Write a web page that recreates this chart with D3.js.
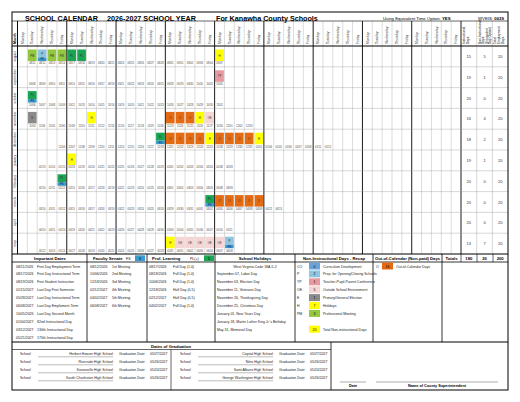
<!DOCTYPE html>
<html><head><meta charset="utf-8">
<script src="https://cdn.jsdelivr.net/npm/d3@7"></script>
<style>body{margin:0;background:#fff}text{font-family:Arial,"Liberation Sans",sans-serif}</style>
</head><body><svg id="c" width="520" height="402"></svg>
<script>
var months = ["august","september","october","november","december","january","february","march","april","may"];
var rowStarts = ["2026-08-11","2026-09-08","2026-10-06","2026-11-03","2026-12-04","2027-01-13","2027-02-10","2027-03-10","2027-04-14","2027-05-12"];
var rowFirstCol = [1,1,1,1,4,2,2,2,2,2];
var rowLastCol = [20,20,20,23,31,21,21,26,21,21];
var instrDays = [15,19,20,16,18,19,20,20,20,13];
var nonInstrDays = [5,1,0,4,2,1,0,0,0,7];
var totalDays = [20,20,20,20,20,20,20,20,20,20];
var dayNames = ["Monday","Tuesday","Wednesday","Thursday","Friday"];
var events = [
 ["08/11/2026","PM"],["08/12/2026","P","PS"],["08/13/2026","PM"],["08/14/2026","PM"],["08/17/2026","PL"],["08/18/2026","PL"],["09/07/2026","H"],
 ["10/05/2026","TP"],["10/06/2026","PL","PS"],
 ["11/03/2026","E"],["11/11/2026","H"],["11/23/2026","O"],["11/24/2026","O"],["11/25/2026","O"],["11/26/2026","H"],["11/27/2026","OE"],
 ["12/18/2026","PL","PS"],["12/21/2026","O"],["12/22/2026","O"],["12/23/2026","O"],["12/24/2026","O"],["12/25/2026","H"],
 ["12/28/2026","O"],["12/29/2026","O"],["12/30/2026","O"],["12/31/2026","O"],["01/01/2027","H"],
 ["01/18/2027","H"],["02/12/2027","PL","PS"],["04/02/2027","PL","PS"],
 ["04/05/2027","O"],["04/06/2027","O"],["04/07/2027","O"],["04/08/2027","O"],["04/09/2027","O"],
 ["05/31/2027","H"],["06/01/2027","OE"],["06/02/2027","OE"],["06/03/2027","OE"],["06/04/2027","OE"],["06/07/2027","OE"],["06/08/2027","P","PS"]
];
var codeColors = {PM:"#92c83e",P:"#8fc5e0",PS:"#3a9ad2",PL:"#1aa553",H:"#ffff00",TP:"#e69aa0",E:"#8a8a8a",O:"#e46b12",OE:"#f6d6d4",CO:"#6aa3d8"};
var importantDates = [["08/11/2026","First Day Employment Term"],["08/17/2026","First Day Instructional Term"],["08/19/2026","First Student Instruction"],["01/15/2027","Last Day First Semester"],["05/28/2027","Last Day Instructional Term"],["06/08/2027","Last Day Emploment Term"],["10/05/2026","Last Day Second Month"],["01/04/2027","82nd Instructional Day"],["03/12/2027","130th Instructional Day"],["05/21/2027","175th Instructional Day"]];
var facultySenate = [["08/12/2026","1st Meeting"],["10/06/2026","2nd Meeting"],["12/18/2026","3rd Meeting"],["02/12/2027","4th Meeting"],["04/02/2027","5th Meeting"],["06/08/2027","6th Meeting"]];
var profLearning = [["08/17/2026","Full Day (1.0)"],["08/18/2026","Full Day (1.0)"],["10/06/2026","Full Day (1.0)"],["12/18/2026","Half Day (0.5)"],["02/12/2027","Half Day (0.5)"],["04/02/2027","Full Day (1.0)"]];
var holidays = ["West Virginia Code 18A-5-2","September 07, Labor Day","November 03, Election Day","November 11, Veterans Day","November 26, Thanksgiving Day","December 25, Christmas Day","January 01, New Years Day","January 18, Martin Luther King Jr.'s Birthday","May 31, Memorial Day"];
var recap = [["CO","0","Curriculum Development"],["P","2","Prep. for Opening/Closing Schools"],["TP","1","Teacher-Pupil-Parent Conference"],["OE","5","Outside School Environment"],["E","1","Primary/General Election"],["H","7","Holidays"],["PM","3","Professional Meeting"]];
var gradLeft = [["Herbert Hoover High School","05/27/2027"],["Riverside High School","05/26/2027"],["Sissonville High School","05/24/2027"],["South Charleston High School","05/26/2027"]];
var gradRight = [["Capital High School","05/27/2027"],["Nitro High School","05/26/2027"],["Saint Albans High School","05/24/2027"],["George Washington High School","05/26/2027"]];

var svg = d3.select("#c");
var L = 12, R = 508, T = 12;
var x = d3.scaleBand().domain(d3.range(45)).range([17.5, 461]);
var y = d3.scaleBand().domain(months).range([46, 254]);
var tx = d3.scaleBand().domain([0,1,2]).range([461, R]);
var parse = d3.timeParse("%m/%d/%Y"), fmt = d3.timeFormat("%m/%d"), iso = d3.timeParse("%Y-%m-%d");
var ev = {}; events.forEach(function(e){ ev[+parse(e[0])] = e; });

function line(x1,y1,x2,y2,w,c){ svg.append("line").attr("x1",x1).attr("y1",y1).attr("x2",x2).attr("y2",y2).attr("stroke",c||"#000").attr("stroke-width",w||0.5); }
function txt(s,xx,yy,size,opt){ opt=opt||{}; return svg.append("text").attr("x",xx).attr("y",yy).attr("font-size",size).attr("text-anchor",opt.a||"start").attr("font-weight",opt.b?"bold":"normal").attr("fill",opt.c||"#000").text(s); }

// title
txt("SCHOOL CALENDAR",25,20.5,7.2,{b:1}); txt("2026-2027 SCHOOL YEAR",107,20.5,7.2,{b:1}); txt("For Kanawha County Schools",216,20.5,7.2,{b:1});
var t1 = txt("Using Equivalent Time Option: ",383,20,4.3); t1.append("tspan").attr("font-weight","bold").text("YES");
var t2 = txt("WVEIS: ",478,20,4.3); t2.append("tspan").attr("font-weight","bold").text("0039");

// header
d3.range(45).forEach(function(i){
  svg.append("text").attr("transform","translate("+(x(i)+x.bandwidth()/2+1.2)+",44) rotate(-90)").attr("font-size",3.3).attr("fill","#333").text(dayNames[i%5]);
});
svg.append("text").attr("transform","translate(16.3,44) rotate(-90)").attr("font-size",3.6).attr("font-weight","bold").text("Month");
[["Instructional","Days"],["Non-Instructional","Days","(Equivalent","Day Option)"],["Total","Employment","Days"]].forEach(function(lines,i){
  lines.forEach(function(s,j){
    svg.append("text").attr("transform","translate("+(tx(i)+4+j*3.6)+",44) rotate(-90)").attr("font-size",3.2).text(s);
  });
});

// rows
months.forEach(function(m,r){
  var y0 = y(m), h = y.bandwidth();
  svg.append("text").attr("transform","translate(16,"+(y0+h/2)+") rotate(-90)").attr("text-anchor","middle").attr("font-size",3.4).attr("fill","#333").text(m);
  var d = iso(rowStarts[r]);
  for (var c = rowFirstCol[r]; c <= rowLastCol[r]; c++) {
    var x0 = x(c), w = x.bandwidth(), e = ev[+d];
    if (e) {
      var full = !e[2];
      svg.append("rect").attr("x",x0+0.6).attr("y",y0+3.5).attr("width",w-1.2).attr("height",full?11.5:8).attr("fill",codeColors[e[1]]);
      txt(e[1],x0+w/2,y0+(full?10.5:8.5),2.8,{a:"middle",c:"#333"});
      if (e[2]) { svg.append("rect").attr("x",x0+0.6).attr("y",y0+11.5).attr("width",w-1.2).attr("height",3.5).attr("fill",codeColors[e[2]]); txt(e[2],x0+w/2,y0+14.3,2.6,{a:"middle",c:"#124"}); }
    }
    txt(fmt(d),x0+w/2,y0+h-2.5,2.6,{a:"middle",c:"#444"});
    d = d3.timeDay.offset(d, d.getDay()===5 ? 3 : 1);
  }
  [instrDays[r],nonInstrDays[r],totalDays[r]].forEach(function(v,i){ txt(v,tx(i)+tx.bandwidth()/2,y0+h/2+1.5,4,{a:"middle",c:"#333"}); });
});

// grid lines
d3.range(46).forEach(function(i){ var xx = i<45?x(i):461; line(xx,21,xx,254,(i%5===0)?0.9:0.35,(i%5===0)?"#000":"#999"); });
[1,2].forEach(function(i){ line(tx(i),21,tx(i),254,0.4,"#999"); });
months.forEach(function(m,r){ if(r>0) line(L,y(m),R,y(m),0.4,"#999"); });
line(L,46,R,46,1.2); line(L,254,R,254,1); line(17.5,21,17.5,254,0.6); line(L,21,R,21,0.6);

// bottom header
line(L,262,R,262,0.8);
[87,147,215,295,373,442].forEach(function(xx){ line(xx,254,xx,342,0.8); });
[461,477,493].forEach(function(xx){ line(xx,254,xx,262,0.6); });
txt("Important Dates",50,259.8,4.2,{a:"middle",b:1});
txt("Faculty Senate",93,259.8,4.2,{b:1}); txt("FS",126,259.8,3.5);
svg.append("rect").attr("x",135).attr("y",255.3).attr("width",10).attr("height",6).attr("fill",codeColors.PS); txt(facultySenate.length,140,259.8,3.6,{a:"middle"});
txt("Prof. Learning",152,259.8,4.2,{b:1}); txt("PL(+)",190,259.8,3.5);
svg.append("rect").attr("x",204).attr("y",255.3).attr("width",10).attr("height",6).attr("fill",codeColors.PL); txt("5",209,259.8,3.6,{a:"middle"});
txt("School Holidays",255,259.8,4.2,{a:"middle",b:1});
txt("Non-Instructional Days - Recap",334,259.8,4.2,{a:"middle",b:1});
txt("Out-of-Calendar (Non-paid) Days",407.5,259.8,4.2,{a:"middle",b:1});
txt("Totals",451.5,259.8,4.2,{a:"middle",b:1});
[d3.sum(instrDays),d3.sum(nonInstrDays),d3.sum(totalDays)].forEach(function(v,i){ txt(v,tx(i)+tx.bandwidth()/2,259.8,4.2,{a:"middle",b:1}); });

var ly = function(i){ return 267.5 + i*7.9; };
importantDates.forEach(function(d,i){ txt(d[0],16,ly(i),3.5,{c:"#222"}); txt(d[1],37,ly(i),3.5,{c:"#222"}); });
facultySenate.forEach(function(d,i){ txt(d[0],90,ly(i),3.5,{c:"#222"}); txt(d[1],112,ly(i),3.5,{c:"#222"}); });
profLearning.forEach(function(d,i){ txt(d[0],149,ly(i),3.5,{c:"#222"}); txt(d[1],173,ly(i),3.5,{c:"#222"}); });
holidays.forEach(function(d,i){ txt(d,i===0?255:217,ly(i),3.5,{c:"#222",a:i===0?"middle":"start"}); });
recap.forEach(function(d,i){
  txt(d[0],297,ly(i),3.5,{c:"#222"});
  svg.append("rect").attr("x",309).attr("y",ly(i)-5).attr("width",11).attr("height",7).attr("fill",codeColors[d[0]]);
  txt(d[1],314.5,ly(i),3.5,{a:"middle"}); txt(d[2],323,ly(i),3.5,{c:"#222"});
});
svg.append("rect").attr("x",309).attr("y",ly(8)-5).attr("width",11).attr("height",7).attr("fill","#ffff00");
txt(d3.sum(nonInstrDays),314.5,ly(8),3.5,{a:"middle"}); txt("Total Non-instructional Days",323,ly(8),3.5,{c:"#222"});
txt("O",376,ly(0),3.5,{c:"#222"});
svg.append("rect").attr("x",382).attr("y",ly(0)-5).attr("width",11).attr("height",7).attr("fill",codeColors.O);
txt(events.filter(function(e){return e[1]==="O";}).length,387.5,ly(0),3.5,{a:"middle"}); txt("Out-of-Calendar Days",396,ly(0),3.5,{c:"#222"});

// graduation
line(L,342,R,342,1); line(L,349.5,331,349.5,0.6); line(331,342,331,390,0.8); line(171,349.5,171,390,0.6);
txt("Dates of Graduation",171,347.5,4.2,{a:"middle",b:1});
function grad(list,x0){
  list.forEach(function(d,i){
    var yy = 355 + i*8;
    txt("School",x0+8,yy,3.5,{c:"#222"}); txt(d[0],x0+101,yy,3.5,{a:"end",c:"#222"});
    line(x0+26,yy+1.8,x0+101,yy+1.8,0.4,"#555");
    txt("Graduation Date",x0+107,yy,3.5,{c:"#222"}); txt(d[1],x0+138,yy,3.5,{c:"#222"});
  });
}
grad(gradLeft,L); grad(gradRight,172);
line(340,382,366,382,0.5,"#555"); line(376,382,498,382,0.5,"#555");
txt("Date",353,387,3.8,{a:"middle",b:1}); txt("Name of County Superintendent",437,387,3.8,{a:"middle",b:1});

svg.append("rect").attr("x",L).attr("y",T).attr("width",R-L).attr("height",390-T).attr("fill","none").attr("stroke","#000").attr("stroke-width",1);
</script></body></html>
